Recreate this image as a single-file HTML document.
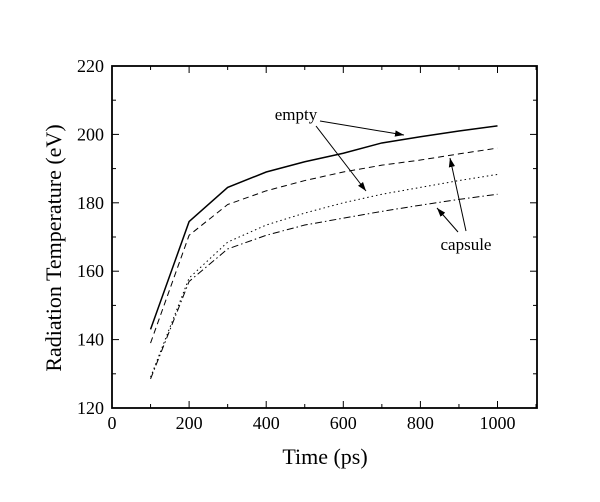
<!DOCTYPE html><html><head><style>body{margin:0;background:#fff}svg{display:block}text{font-family:"Liberation Serif",serif;fill:#000}</style></head><body>
<svg id="s" width="600" height="502" xmlns="http://www.w3.org/2000/svg">
<defs><marker id="a" viewBox="0 0 10 10" refX="10" refY="5" markerWidth="9" markerHeight="9" orient="auto-start-reverse" markerUnits="userSpaceOnUse"><path d="M0,1.5 L10,5 L0,8.5 z" fill="#000"/></marker></defs>
<g id="g"></g>
<rect x="112" y="66" width="425" height="342" fill="none" stroke="#000" stroke-width="1.8"/>
<text x="296" y="120" font-size="17" text-anchor="middle">empty</text>
<text x="466" y="250" font-size="17" text-anchor="middle">capsule</text>
<line x1="320" y1="121" x2="404" y2="135" stroke="#000" marker-end="url(#a)"/>
<line x1="316" y1="126" x2="366" y2="191" stroke="#000" marker-end="url(#a)"/>
<line x1="466" y1="231" x2="450" y2="158" stroke="#000" marker-end="url(#a)"/>
<line x1="458" y1="232" x2="437" y2="208" stroke="#000" marker-end="url(#a)"/>
<text x="325" y="464" font-size="22" text-anchor="middle">Time (ps)</text>
<text transform="translate(61,248) rotate(-90)" font-size="22" text-anchor="middle">Radiation Temperature (eV)</text>
</svg>
<script>
const X=t=>112+0.3855*t,Y=v=>408-(v-120)*3.42;let h='';
for(let t=0;t<=1100;t+=100){const x=X(t),L=t%200?4:7;h+=`<line x1="${x}" y1="408" x2="${x}" y2="${408-L}" stroke="#000"/><line x1="${x}" y1="66" x2="${x}" y2="${66+L}" stroke="#000"/>`;if(t%200==0&&t<=1000)h+=`<text x="${x}" y="429" font-size="18" text-anchor="middle">${t}</text>`;}
for(let v=120;v<=220;v+=10){const y=Y(v),L=v%20?4:7;h+=`<line x1="112" y1="${y}" x2="${112+L}" y2="${y}" stroke="#000"/><line x1="537" y1="${y}" x2="${537-L}" y2="${y}" stroke="#000"/>`;if(v%20==0)h+=`<text x="104" y="${y+6}" font-size="18" text-anchor="end">${v}</text>`;}
const D=[[[143,174.5,184.5,189,192,194.5,197.5,199.3,201,202.5],'',1.5],[[139,170.5,179.5,183.5,186.5,189,191,192.5,194.3,196],'6,4',1],[[129,158,168.5,173.5,177,180,182.5,184.5,186.5,188.3],'1.5,3',1],[[128.5,157,166.5,170.5,173.5,175.5,177.5,179.3,181,182.5],'7,3,1.5,3',1]];
for(const[d,da,w]of D){h+=`<polyline fill="none" stroke="#000" stroke-width="${w}" stroke-dasharray="${da}" points="${d.map((v,i)=>X(100*(i+1))+','+Y(v)).join(' ')}"/>`;}
document.getElementById('g').innerHTML=h;
</script></body></html>
